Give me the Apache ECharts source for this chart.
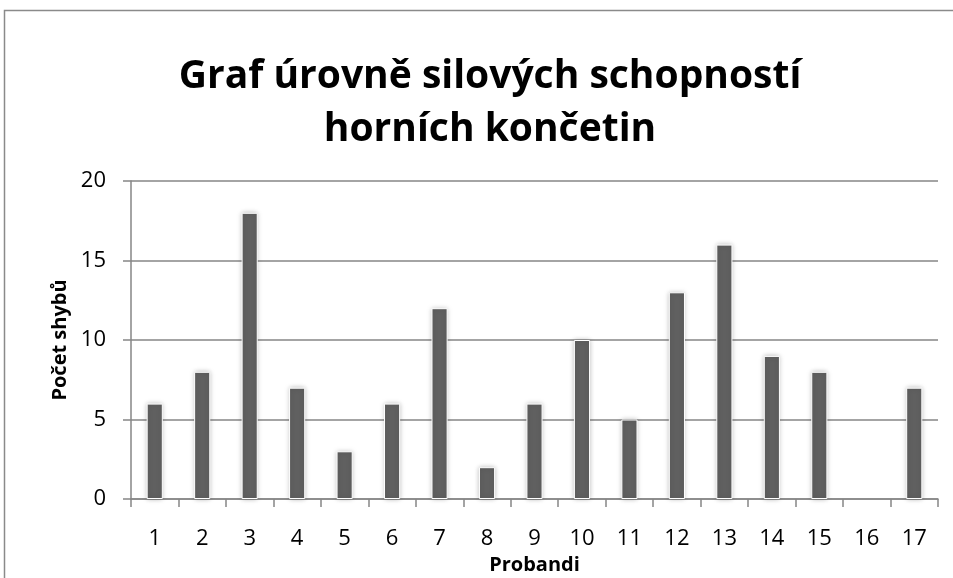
<!DOCTYPE html>
<html><head><meta charset="utf-8">
<script src="https://cdn.jsdelivr.net/npm/echarts@6/dist/echarts.min.js"></script>
<style>html,body{margin:0;padding:0;background:#fff}#c{width:953px;height:578px}</style>
</head><body><div id="c"></div>
<script>
const categories = ['1','2','3','4','5','6','7','8','9','10','11','12','13','14','15','16','17'];
const values = [6,8,18,7,3,6,12,2,6,10,5,13,16,9,8,0,7];
const yTicks = [0,5,10,15,20];
const titleText = 'Graf úrovně silových schopností\nhorních končetin';
const xName = 'Probandi';
const yName = 'Počet shybů';

const chart = echarts.init(document.getElementById('c'), null, {renderer:'canvas'});
const font = '"Open Sans", sans-serif';
const barData = values.map(v => v === 0 ? {value:v, itemStyle:{borderWidth:0, shadowBlur:0, shadowColor:'transparent'}} : v);
chart.setOption({
  animation:false,
  graphic:[{type:'rect',shape:{x:4.5,y:10.5,width:960,height:600},style:{fill:'none',stroke:'#8a8a8a',lineWidth:1.5},silent:true}],
  title:{text:titleText,left:485,top:45,textAlign:'center',textStyle:{fontFamily:font,fontWeight:'bold',fontSize:39,lineHeight:53,color:'#000'}},
  grid:{left:131,right:15,top:181,bottom:79,containLabel:false,outerBoundsMode:'none'},
  xAxis:{type:'category',data:categories,name:xName,nameLocation:'middle',nameGap:52,
    nameTextStyle:{fontFamily:font,fontWeight:'bold',fontSize:20,color:'#000'},
    axisLine:{lineStyle:{color:'#868686',width:1.5}},
    axisTick:{show:true,length:8,lineStyle:{color:'#868686',width:1.5}},
    axisLabel:{fontFamily:font,fontSize:22,color:'#000',margin:29}},
  yAxis:{type:'value',min:yTicks[0],max:yTicks[yTicks.length-1],interval:5,name:yName,nameLocation:'middle',nameGap:59,
    nameTextStyle:{fontFamily:font,fontWeight:'bold',fontSize:20,color:'#000'},
    axisLine:{show:true,lineStyle:{color:'#868686',width:1.5}},
    axisTick:{show:true,length:8,lineStyle:{color:'#868686',width:1.5}},
    splitLine:{lineStyle:{color:'#868686',width:1.5}},
    axisLabel:{fontFamily:font,fontSize:22,color:'#000',margin:25}},
  series:[{type:'bar',data:barData,barWidth:'34%',
    itemStyle:{color:'#606060',borderColor:'#fff',borderWidth:1,shadowColor:'rgba(0,0,0,0.25)',shadowBlur:5}}]
});
</script></body></html>
